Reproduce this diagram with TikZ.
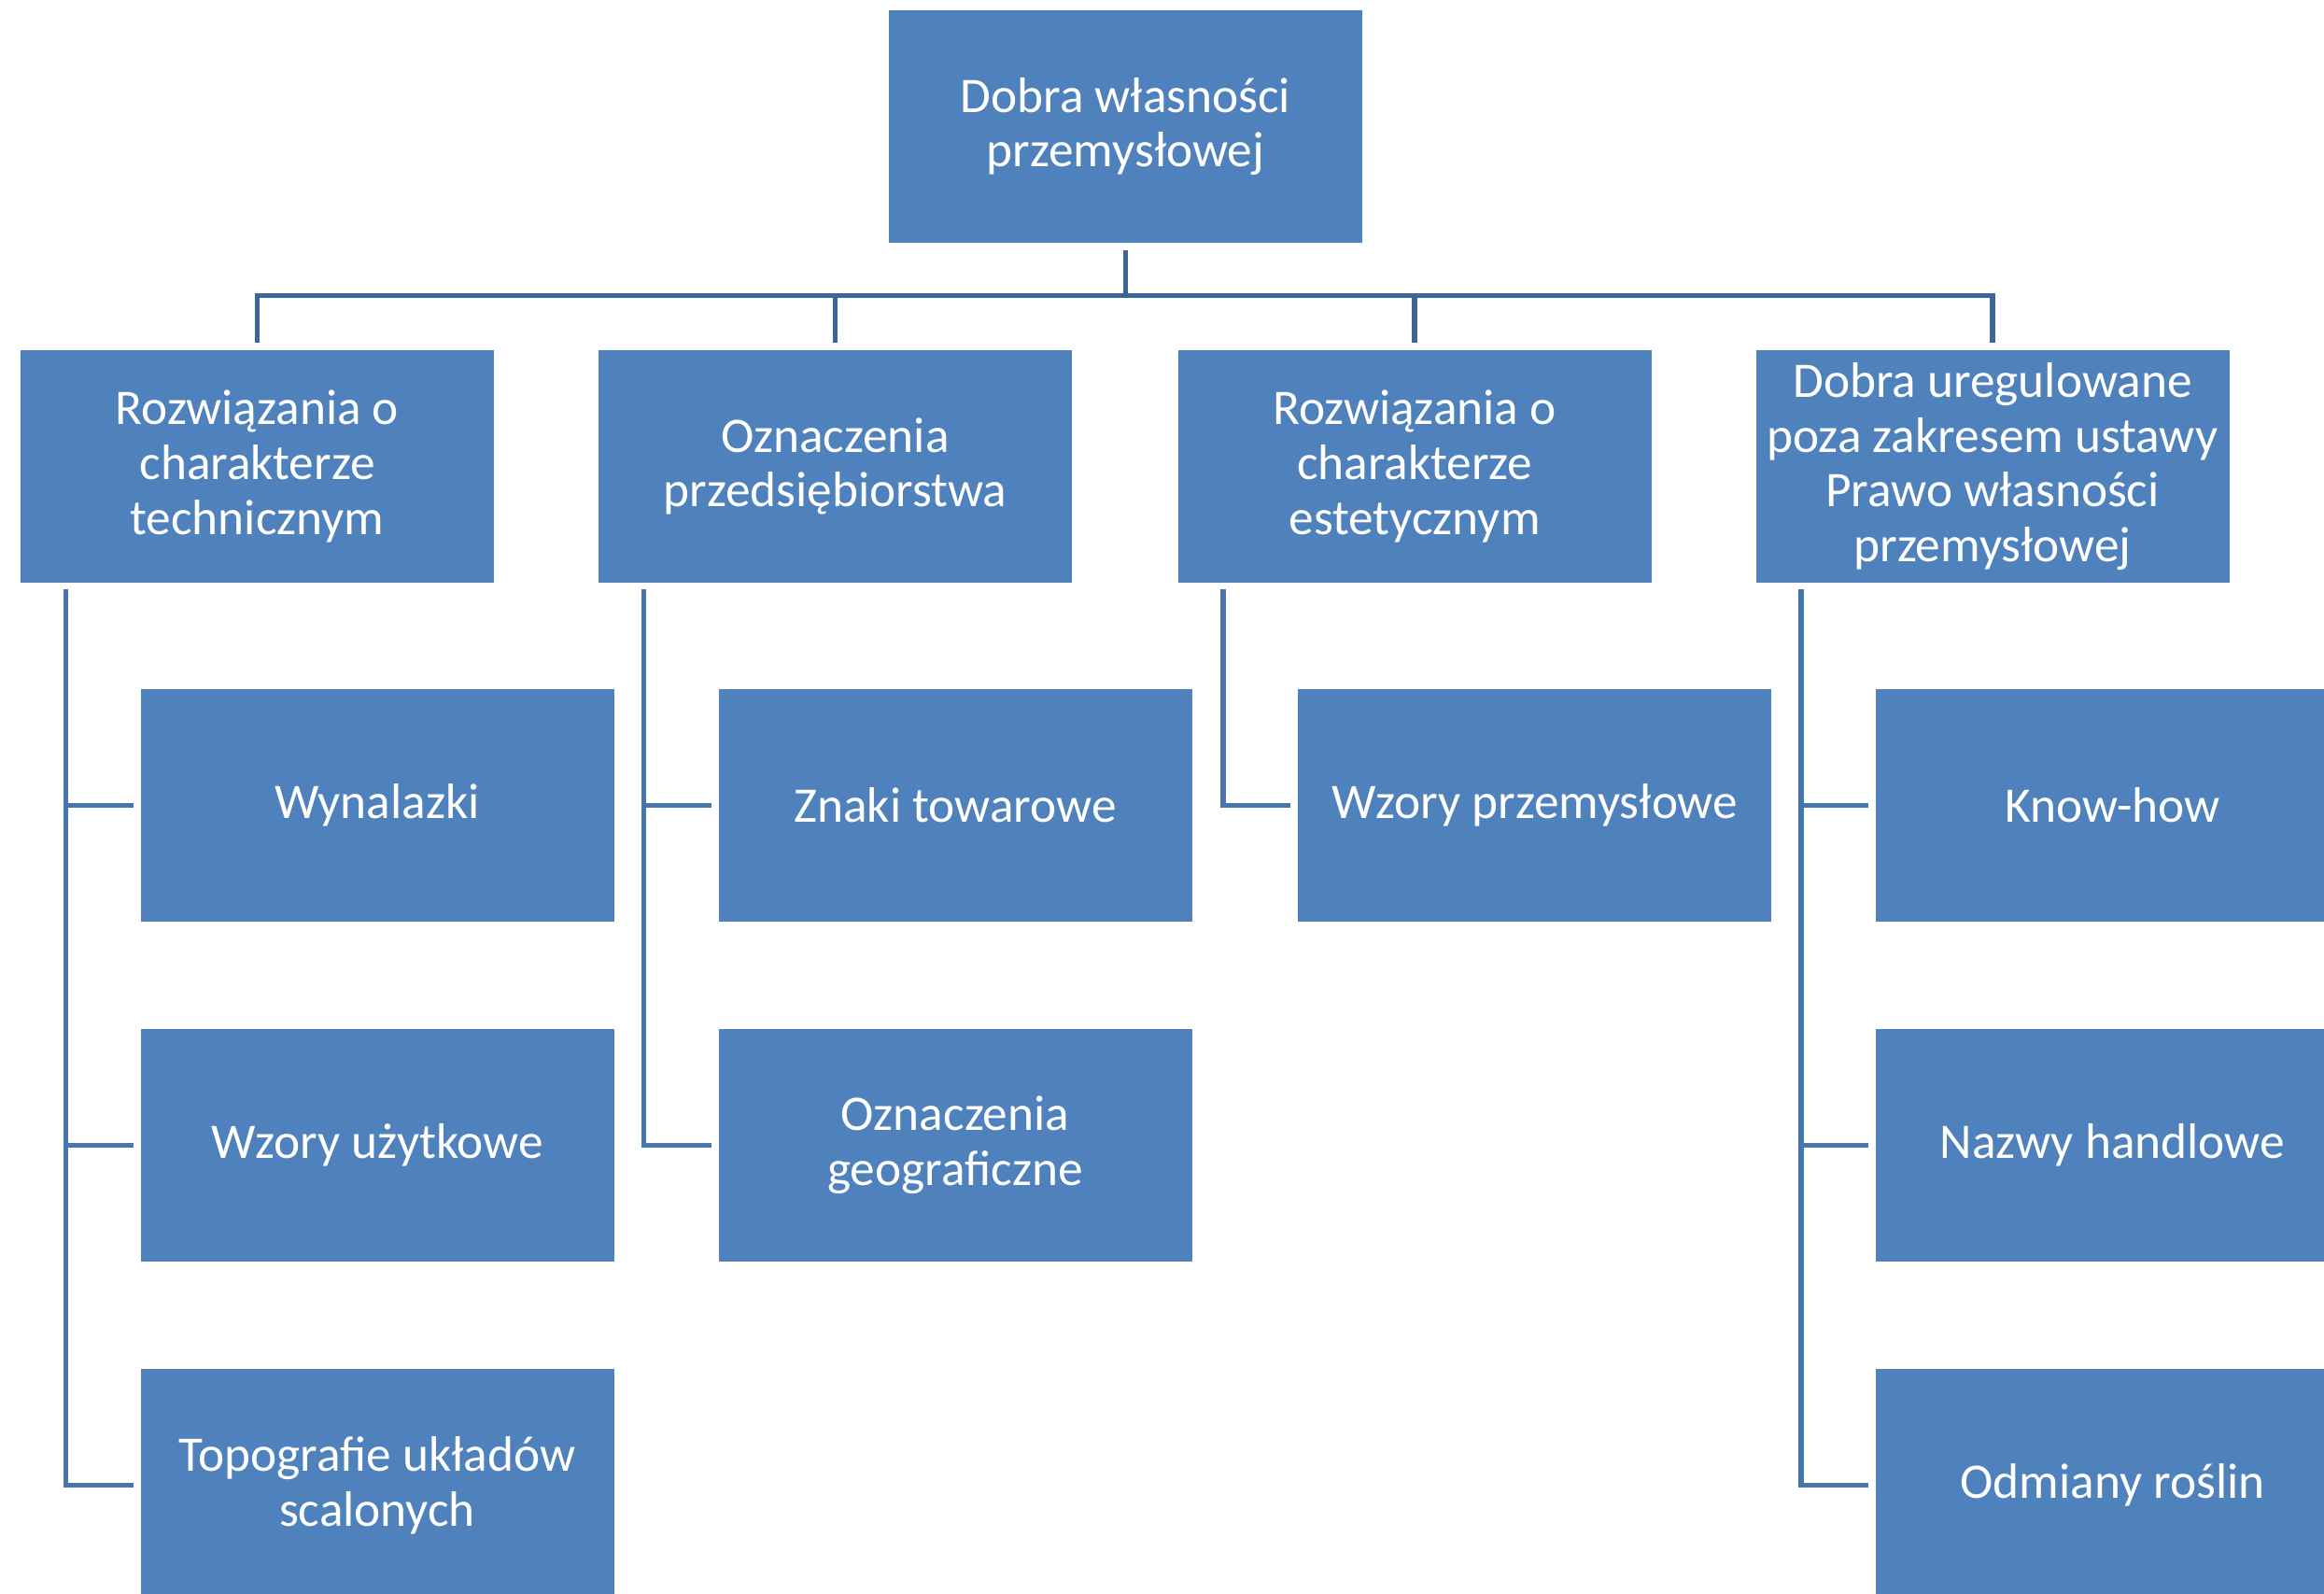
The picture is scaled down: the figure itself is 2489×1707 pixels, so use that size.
\documentclass[tikz,border=0pt]{standalone}
\usepackage{fontspec}
\setmainfont{Carlito}
\usepackage{tikz}
\usetikzlibrary{positioning, calc}

\definecolor{boxblue}{HTML}{4F81BD}
\definecolor{busblue}{HTML}{3D6498}
\definecolor{twigblue}{HTML}{4775AC}

\begin{document}
\begin{tikzpicture}[x=0.3pt, y=-0.3pt,
		box/.style={fill=boxblue, text=white, align=center, inner sep=1pt,
			minimum width=152.1pt, minimum height=74.7pt,
			font=\fontsize{16}{17.6}\selectfont},
		bus/.style={draw=busblue, line width=1.7pt, shorten <=2.1pt, shorten >=2.1pt},
		twig/.style={draw=twigblue, line width=1.6pt, shorten <=1.8pt, shorten >=2.1pt}]
		\useasboundingbox (0,0) rectangle (2489,1707);
		\clip (0,0) rectangle (2489,1707);
		\node[box] (top) at (1205.5,135.5) {Dobra własności\\przemysłowej};
		% first level, hung from the bus
		\foreach \n/\x/\t in {
			tech/275.5/{Rozwiązania o\\charakterze\\technicznym},
			ozn/894.5/{Oznaczenia\\przedsiębiorstwa},
			est/1515/{Rozwiązania o\\charakterze\\estetycznym},
			poza/2134/{Dobra uregulowane\\poza zakresem ustawy\\Prawo własności\\przemysłowej}}{
			\node[box] (\n) at (\x,499.5) {\t};
			\draw[bus] (top.south) -- ++(0,-16.8pt) -| (\n.north);
		}
		% second level
		\foreach \p/\n/\r/\t in {
			tech/wyn/0/{Wynalazki},
			tech/wzu/1/{Wzory użytkowe},
			tech/topo/2/{Topografie układów\\scalonych},
			ozn/znaki/0/{Znaki towarowe},
			ozn/geo/1/{Oznaczenia\\geograficzne},
			est/wzp/0/{Wzory przemysłowe},
			poza/know/0/{Know-how},
			poza/nazwy/1/{Nazwy handlowe},
			poza/odm/2/{Odmiany roślin}}{
			\node[box] (\n) at ($(\p.center)+(128.5,{363+\r*364})$) {\t};
			\draw[twig] ([xshift=14.7pt]\p.south west) |- (\n.west);
		}
	\end{tikzpicture}
\end{document}
